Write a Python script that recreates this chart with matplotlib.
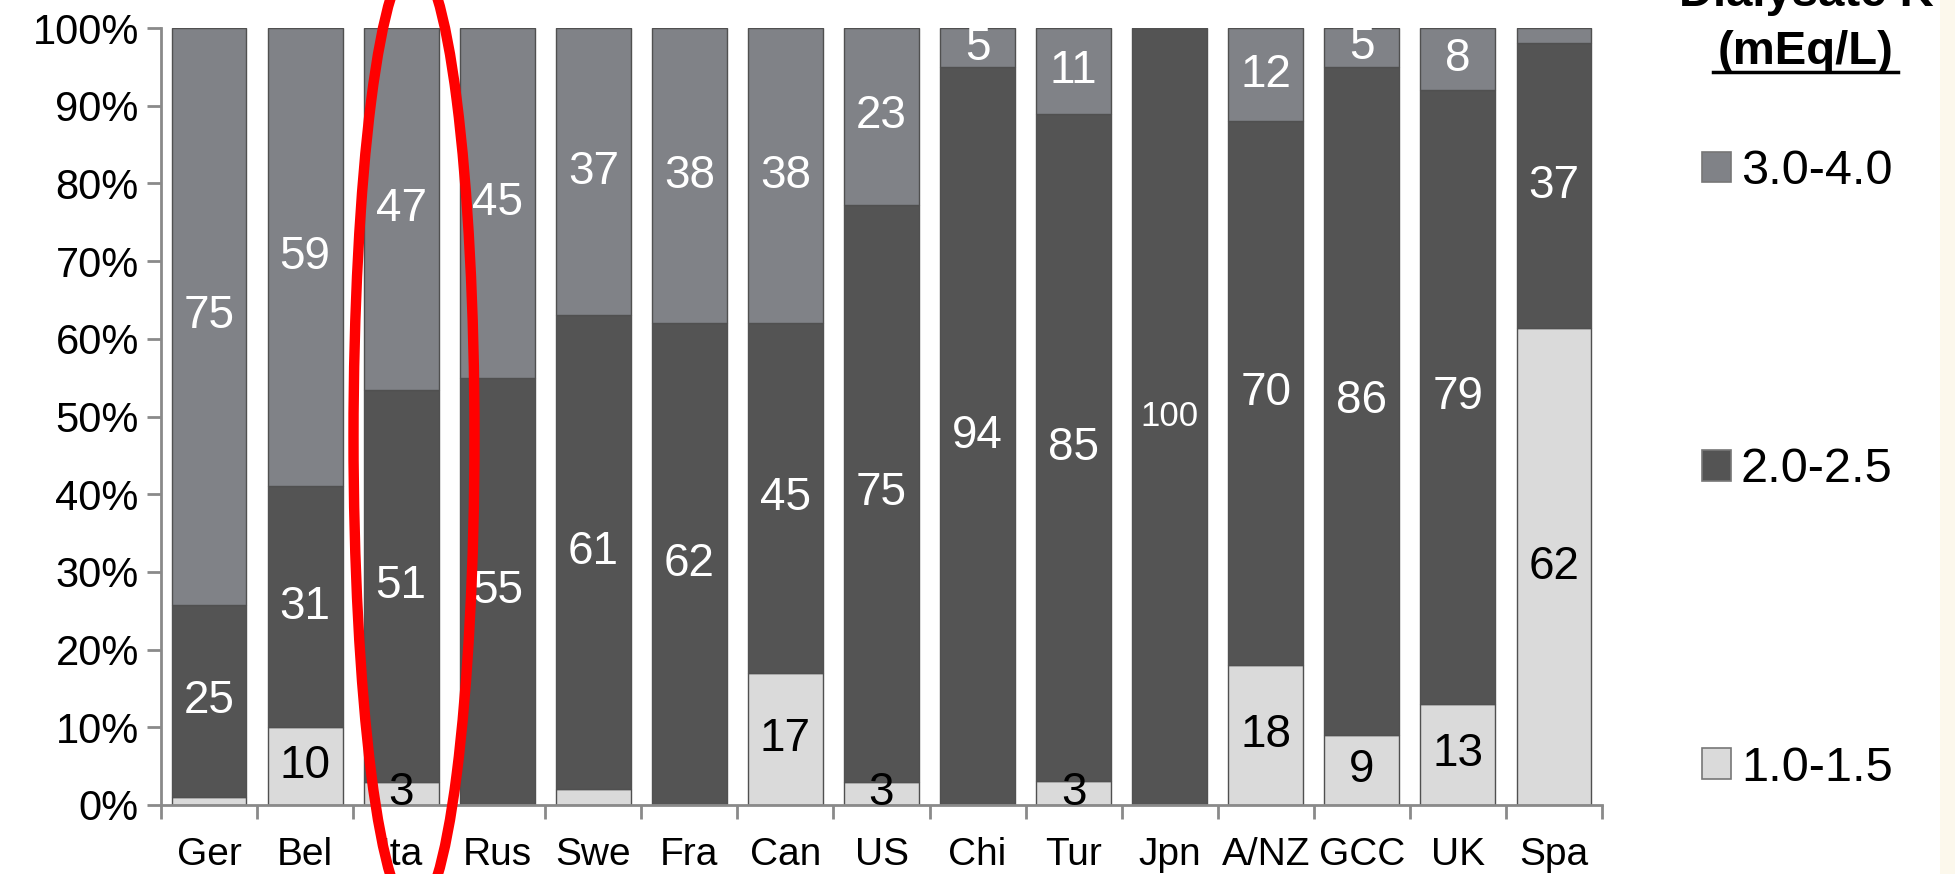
import matplotlib
matplotlib.use("Agg")
import matplotlib.pyplot as plt
from matplotlib.patches import Patch, Ellipse, Rectangle
from matplotlib.lines import Line2D
import numpy as np

plt.rcParams['font.family'] = ['Liberation Sans', 'DejaVu Sans']

# share of patients by dialysate potassium (mEq/L), per country
countries = ['Ger', 'Bel', 'Ita', 'Rus', 'Swe', 'Fra', 'Can', 'US', 'Chi',
             'Tur', 'Jpn', 'A/NZ', 'GCC', 'UK', 'Spa']
k_low = [1, 10, 3, 0, 2, 0, 17, 3, 0, 3, 0, 18, 9, 13, 62]            # 1.0-1.5
k_mid = [25, 31, 51, 55, 61, 62, 45, 75, 94, 85, 100, 70, 86, 79, 37]  # 2.0-2.5
k_high = [75, 59, 47, 45, 37, 38, 38, 23, 5, 11, 0, 12, 5, 8, 2]       # 3.0-4.0
series_names = ['1.0-1.5', '2.0-2.5', '3.0-4.0']

col_low = '#dadada'
col_mid = '#545454'
col_high = '#808287'
edge = '#505050'

W, H, DPI = 1955, 874, 100
fig = plt.figure(figsize=(W / DPI, H / DPI), dpi=DPI)
fig.patch.set_facecolor('white')
ax = fig.add_axes([161 / W, 69 / H, (1602 - 161) / W, (805 - 28) / H])

raw = np.array([k_low, k_mid, k_high], dtype=float)
pct = raw / raw.sum(axis=0) * 100   # 100% stacked
x = np.arange(len(countries))
colors = [col_low, col_mid, col_high]
txt_col = ['black', 'white', 'white']

bottom = np.zeros(len(countries))
for i in range(3):
    ax.bar(x, pct[i], 0.78, bottom=bottom, color=colors[i], edgecolor=edge,
           linewidth=1.0, zorder=2)
    for j in range(len(countries)):
        v = raw[i, j]
        if v >= 3:
            fs = 25 if v >= 100 else 33
            ax.text(x[j], bottom[j] + pct[i, j] / 2, f"{v:.0f}", ha='center',
                    va='center', fontsize=fs, color=txt_col[i], zorder=4,
                    clip_on=False)
    bottom += pct[i]

ax.set_xlim(-0.5, len(countries) - 0.5)
ax.set_ylim(0, 100)
ax.set_yticks(np.arange(0, 101, 10))
ax.set_yticklabels([f"{t}%" for t in range(0, 101, 10)], fontsize=30)
ax.set_xticks(np.arange(-0.5, len(countries), 1))
ax.set_xticklabels([])
ax.set_xticks(x, minor=True)
ax.set_xticklabels(countries, minor=True, fontsize=28)
ax.tick_params(axis='x', which='minor', length=0, pad=23)
ax.tick_params(axis='both', which='major', length=10, width=2, color='#8a8a8a',
               direction='out')
ax.tick_params(axis='y', pad=6)
for s in ['top', 'right']:
    ax.spines[s].set_visible(False)
for s in ['left', 'bottom']:
    ax.spines[s].set_color('#8a8a8a')
    ax.spines[s].set_linewidth(2)

# legend, top entry first
handles = [Patch(facecolor=colors[i], edgecolor='#777777', linewidth=1.2)
           for i in (2, 1, 0)]
labels = [series_names[i] for i in (2, 1, 0)]
fs_leg = 35
fs_px = fs_leg * DPI / 72
fig.legend(handles, labels, loc='center left',
           bbox_to_anchor=(1702 / W, (H - 470) / H), frameon=False,
           fontsize=fs_leg, labelspacing=(302 - fs_px) / fs_px,
           handlelength=0.6, handleheight=0.6, handletextpad=0.2,
           borderpad=0, borderaxespad=0)

# legend heading
fig.text(1806 / W, (H - 6) / H, 'Dialysate K', ha='center', va='baseline',
         fontsize=34, fontweight='bold')
fig.text(1806 / W, (H - 64) / H, '(mEq/L)', ha='center', va='baseline',
         fontsize=34, fontweight='bold')
fig.add_artist(Line2D([1713 / W, 1898 / W], [(H - 72) / H, (H - 72) / H],
                      transform=fig.transFigure, color='black', linewidth=2.5))

# red ring around Italy
ring = Ellipse((414 / DPI, (H - 437) / DPI), 121 / DPI, 952 / DPI,
               transform=fig.dpi_scale_trans, fill=False, edgecolor='#ff0000',
               linewidth=7.5, zorder=10)
fig.add_artist(ring)

# cream margin at the right edge
fig.add_artist(Rectangle((1940 / W, 0), 15 / W, 1, transform=fig.transFigure,
                         facecolor='#fcf8ec', edgecolor='none', zorder=11))

fig.savefig('out.png', dpi=DPI)
